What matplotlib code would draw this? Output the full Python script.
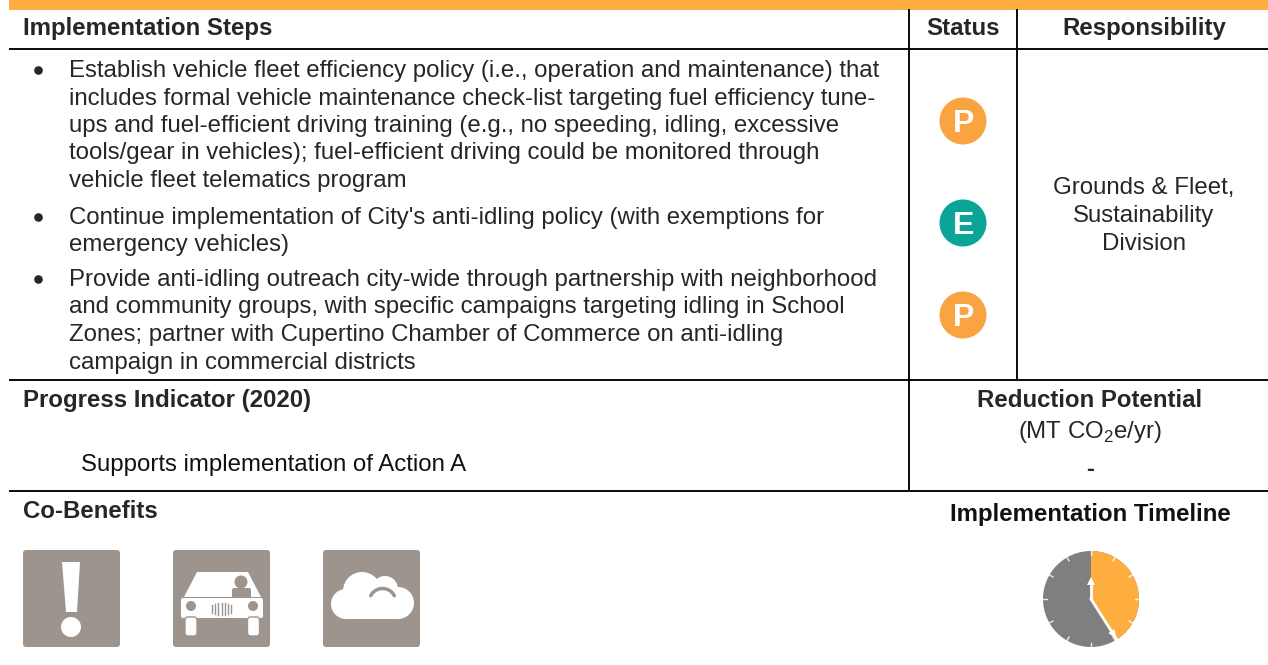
import numpy as np
import matplotlib
matplotlib.use("Agg")
import matplotlib.pyplot as plt
from matplotlib.patches import Circle, FancyBboxPatch, Wedge, Polygon, Rectangle

plt.rcParams['font.family'] = ['Liberation Sans', 'DejaVu Sans']

step_1 = ["Establish vehicle fleet efficiency policy (i.e., operation and maintenance) that",
          "includes formal vehicle maintenance check-list targeting fuel efficiency tune-",
          "ups and fuel-efficient driving training (e.g., no speeding, idling, excessive",
          "tools/gear in vehicles); fuel-efficient driving could be monitored through",
          "vehicle fleet telematics program"]
step_2 = ["Continue implementation of City's anti-idling policy (with exemptions for",
          "emergency vehicles)"]
step_3 = ["Provide anti-idling outreach city-wide through partnership with neighborhood",
          "and community groups, with specific campaigns targeting idling in School",
          "Zones; partner with Cupertino Chamber of Commerce on anti-idling",
          "campaign in commercial districts"]
status_letters = ["P", "E", "P"]
responsibility = ["Grounds & Fleet,", "Sustainability", "Division"]
timeline_share = 0.41

ORANGE = "#fdae3f"
BADGE_ORANGE = "#f9a341"
TEAL = "#0aa597"
TAUPE = "#9d948d"
TEXT = "#262626"
FS = 17.3
LW = 1.35

fig = plt.figure(figsize=(12.68, 6.65), dpi=100)
ax = fig.add_axes([0, 0, 1, 1])
ax.set_xlim(0, 1268)
ax.set_ylim(665, 0)
ax.axis("off")

# header band and table rules
ax.add_patch(Rectangle((9, 0), 1259, 10, color=ORANGE, lw=0))
for y in (49, 380, 491):
    ax.plot([9, 1268], [y, y], color="black", lw=LW, solid_capstyle="butt")
ax.plot([909, 909], [9, 491], color="black", lw=LW, solid_capstyle="butt")
ax.plot([1017, 1017], [9, 380], color="black", lw=LW, solid_capstyle="butt")


def txt(x, y, s, **kw):
    kw.setdefault("fontsize", FS)
    kw.setdefault("color", TEXT)
    kw.setdefault("va", "baseline")
    ax.text(x, y, s, **kw)


txt(23, 35, "Implementation Steps", fontweight="bold")
txt(963, 35, "Status", fontweight="bold", ha="center")
txt(1144, 35, "Responsibility", fontweight="bold", ha="center")

# bullets
for lines, y0 in zip([step_1, step_2, step_3], [77, 224, 286]):
    ax.add_patch(Circle((38.5, y0 - 6.5), 4.3, color=TEXT, lw=0))
    for i, line in enumerate(lines):
        txt(69, y0 + i * 27.5, line)

# status badges
for letter, y in zip(status_letters, [121, 223, 315]):
    ax.add_patch(Circle((963, y), 23.5, color=TEAL if letter == "E" else BADGE_ORANGE, lw=0))
    txt(963.5, y + 11.5, letter, color="white", fontweight="bold", ha="center", fontsize=23)

for i, line in enumerate(responsibility):
    txt(1144, 194 + i * 28, line, ha="center")

txt(23, 407, "Progress Indicator (2020)", fontweight="bold")
txt(81, 471, "Supports implementation of Action A", color="#111111")
txt(1090, 407, "Reduction Potential", fontweight="bold", ha="center")
txt(1090, 438, "(MT CO$_{\\mathregular{2}}$e/yr)", ha="center")
txt(1090, 476, "-", fontweight="bold", ha="center")

txt(23, 518, "Co-Benefits", fontweight="bold")
txt(1090, 521, "Implementation Timeline", fontweight="bold", ha="center", color="#111111")


# co-benefit tiles
def tile(x):
    ax.add_patch(FancyBboxPatch((x + 3, 553), 91, 91, boxstyle="round,pad=3", color=TAUPE, lw=0))


tile(23)
ax.add_patch(Polygon([(62, 562), (80, 562), (77, 612), (66, 612)], color="white", lw=0))
ax.add_patch(Circle((71, 627), 10, color="white", lw=0))

tile(173)
ax.add_patch(Polygon([(184, 597), (197, 572), (248, 572), (261, 597)], color="white", lw=0))
ax.add_patch(Circle((241, 582), 6.5, color=TAUPE, lw=0))
ax.add_patch(FancyBboxPatch((234, 590), 15, 8, boxstyle="round,pad=2", color=TAUPE, lw=0))
ax.add_patch(FancyBboxPatch((183, 600), 78, 16, boxstyle="round,pad=2", color="white", lw=0))
for x in (191, 253):
    ax.add_patch(Circle((x, 606), 5, color=TAUPE, lw=0))
for x, h in zip((212, 215, 218, 221.5, 225, 228, 231), (4, 5, 6, 6, 6, 5, 4)):
    ax.plot([x, x], [609 - h, 609 + h], color=TAUPE, lw=1)
for x in (191, 253.5):
    ax.add_patch(FancyBboxPatch((x - 3, 620), 6, 13, boxstyle="round,pad=3", fc="white", ec=TAUPE, lw=1))

tile(323)
for cx, cy, r in [(362, 591, 19), (385, 589, 13), (398, 603, 16), (346, 604, 15)]:
    ax.add_patch(Circle((cx, cy), r, color="white", lw=0))
ax.add_patch(Rectangle((346, 595), 52, 24, color="white", lw=0))
t = np.radians(np.arange(205, 340, 5))
ax.plot(382.5 + 13 * np.cos(t), 601 + 12.5 * np.sin(t), color=TAUPE, lw=2.5, solid_capstyle="round")

# timeline clock
cx, cy, r = 1091, 599, 48
ax.add_patch(Circle((cx, cy), r, color="#7f7f7f", lw=0))
end = 360 * timeline_share
ax.add_patch(Wedge((cx, cy), r, -90, -90 + end, color=ORANGE, lw=0))
for k in range(12):
    a = np.radians(30 * k)
    ax.plot([cx + (r - 4) * np.sin(a), cx + r * np.sin(a)], [cy - (r - 4) * np.cos(a), cy - r * np.cos(a)],
            color="white", lw=1, alpha=0.85)
ax.plot([cx, cx], [cy, cy - 17], color="white", lw=2)
ax.add_patch(Polygon([(cx - 4, cy - 14), (cx + 4, cy - 14), (cx, cy - 22)], color="white", lw=0))
a = np.radians(end)
ax.plot([cx, cx + r * np.sin(a)], [cy, cy - r * np.cos(a)], color="white", lw=2)
# arrow head on the long hand
ux, uy = np.sin(a), -np.cos(a)
ax.add_patch(Polygon([(cx + 38 * ux - 3.5 * uy, cy + 38 * uy + 3.5 * ux),
                      (cx + 38 * ux + 3.5 * uy, cy + 38 * uy - 3.5 * ux),
                      (cx + r * ux, cy + r * uy)], color="white", lw=0))

fig.savefig("out.png", dpi=100)
